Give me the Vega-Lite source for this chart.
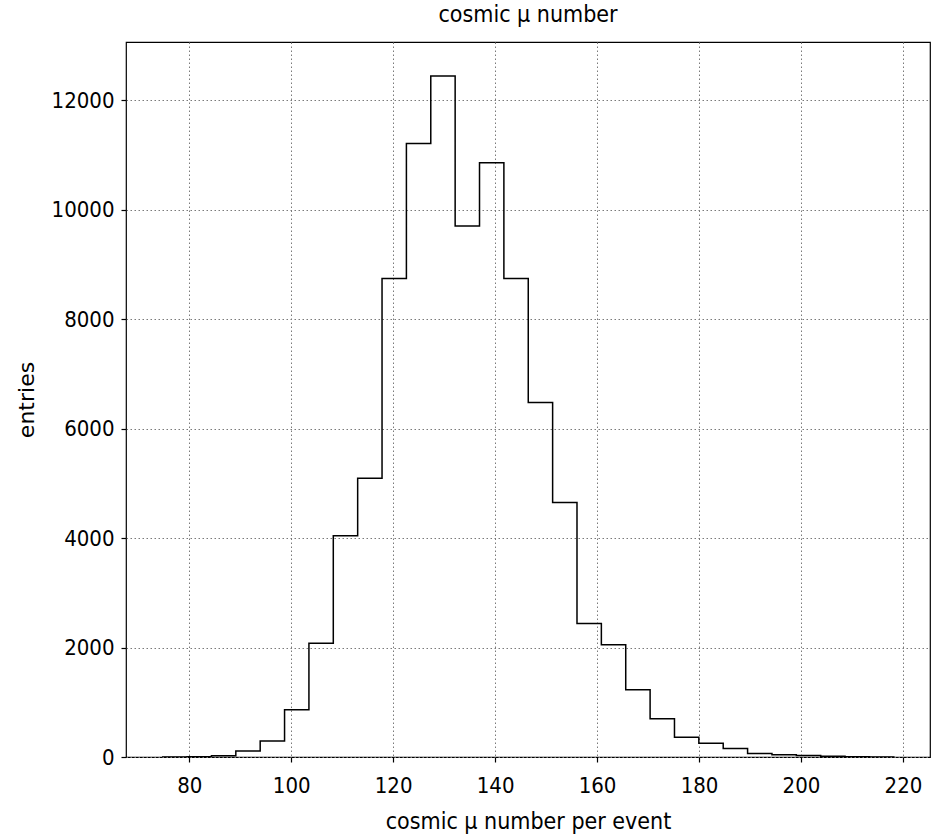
{
  "$schema": "https://vega.github.io/schema/vega-lite/v6.json",
  "width": 804,
  "height": 715,
  "autosize": {"type": "none"},
  "padding": {"left": 126, "top": 42, "right": 15, "bottom": 80},
  "background": "white",
  "title": {
    "text": "cosmic μ number",
    "font": "DejaVu Sans Condensed, DejaVu Sans",
    "fontSize": 23,
    "fontWeight": "normal",
    "color": "black",
    "anchor": "middle",
    "offset": 15
  },
  "config": {
    "view": {"stroke": "black", "strokeWidth": 1.2},
    "axis": {
      "labelFont": "DejaVu Sans Condensed, DejaVu Sans",
      "labelFontSize": 22,
      "labelColor": "black",
      "titleFont": "DejaVu Sans Condensed, DejaVu Sans",
      "titleFontSize": 23,
      "titleFontWeight": "normal",
      "titleColor": "black",
      "tickColor": "black",
      "tickSize": 5,
      "tickWidth": 1.2,
      "domain": false,
      "grid": true,
      "gridColor": "#7a7a7a",
      "gridDash": [1.5, 2.5],
      "gridWidth": 1
    }
  },
  "data": {
    "values": [
      {"i": 0, "edge": 74.8, "entries": 0},
      {"i": 1, "edge": 74.8, "entries": 1},
      {"i": 2, "edge": 79.58, "entries": 5},
      {"i": 3, "edge": 84.36, "entries": 25},
      {"i": 4, "edge": 89.14, "entries": 110},
      {"i": 5, "edge": 93.92, "entries": 292},
      {"i": 6, "edge": 98.7, "entries": 864},
      {"i": 7, "edge": 103.48, "entries": 2080},
      {"i": 8, "edge": 108.26, "entries": 4040},
      {"i": 9, "edge": 113.04, "entries": 5090},
      {"i": 10, "edge": 117.82, "entries": 8740},
      {"i": 11, "edge": 122.6, "entries": 11205},
      {"i": 12, "edge": 127.38, "entries": 12440},
      {"i": 13, "edge": 132.16, "entries": 9700},
      {"i": 14, "edge": 136.94, "entries": 10855},
      {"i": 15, "edge": 141.72, "entries": 8740},
      {"i": 16, "edge": 146.5, "entries": 6475},
      {"i": 17, "edge": 151.28, "entries": 4650},
      {"i": 18, "edge": 156.06, "entries": 2440},
      {"i": 19, "edge": 160.84, "entries": 2050},
      {"i": 20, "edge": 165.62, "entries": 1230},
      {"i": 21, "edge": 170.4, "entries": 700},
      {"i": 22, "edge": 175.18, "entries": 360},
      {"i": 23, "edge": 179.96, "entries": 250},
      {"i": 24, "edge": 184.74, "entries": 155},
      {"i": 25, "edge": 189.52, "entries": 65},
      {"i": 26, "edge": 194.3, "entries": 40},
      {"i": 27, "edge": 199.08, "entries": 27},
      {"i": 28, "edge": 203.86, "entries": 12},
      {"i": 29, "edge": 208.64, "entries": 6},
      {"i": 30, "edge": 213.42, "entries": 2},
      {"i": 31, "edge": 218.2, "entries": 2},
      {"i": 32, "edge": 218.2, "entries": 0}
    ]
  },
  "mark": {"type": "line", "interpolate": "step-after", "color": "black", "strokeWidth": 1.5, "clip": true},
  "encoding": {
    "x": {
      "field": "edge",
      "type": "quantitative",
      "scale": {"domain": [67.6, 225.3], "nice": false, "zero": false},
      "axis": {"values": [80, 100, 120, 140, 160, 180, 200, 220], "format": "d", "title": "cosmic μ number per event", "labelPadding": 13, "titlePadding": 14}
    },
    "y": {
      "field": "entries",
      "type": "quantitative",
      "scale": {"domain": [0, 13060], "nice": false},
      "axis": {"values": [0, 2000, 4000, 6000, 8000, 10000, 12000], "format": "d", "title": "entries", "titleFont": "DejaVu Sans", "titleFontSize": 22, "labelPadding": 7, "titlePadding": 13}
    },
    "order": {"field": "i", "type": "quantitative"}
  }
}
